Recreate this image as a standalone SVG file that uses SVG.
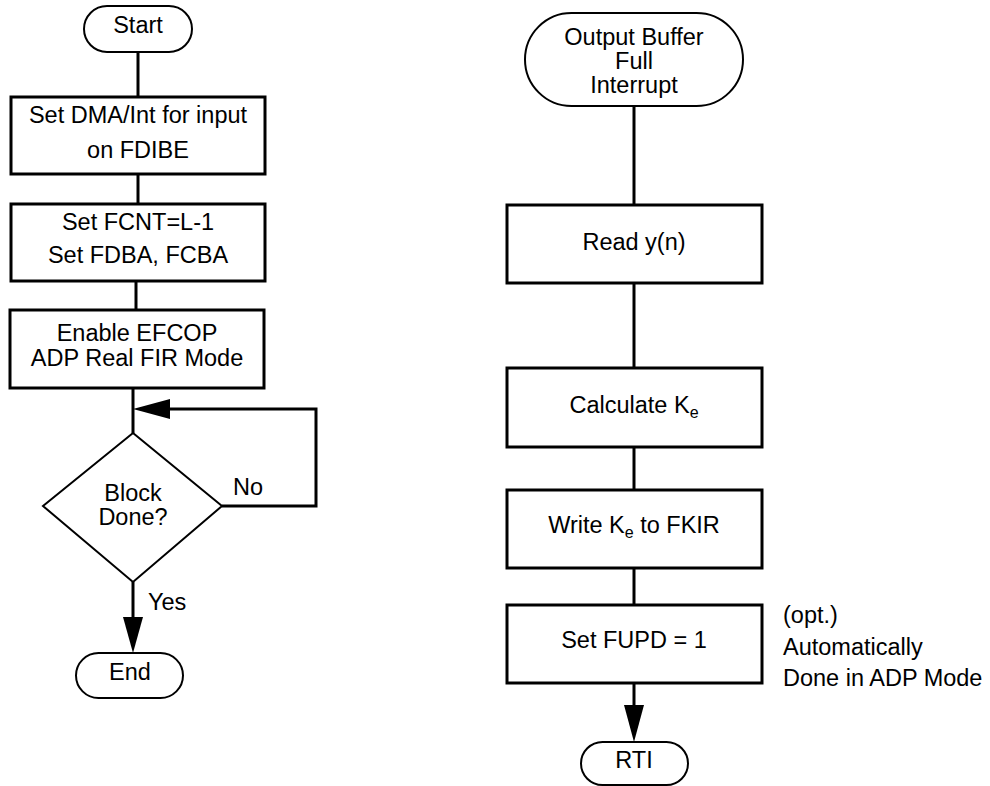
<svg xmlns="http://www.w3.org/2000/svg" width="990" height="786" viewBox="0 0 990 786">
<style>
.box{fill:#fff;stroke:#000;stroke-width:3}
.term{fill:#fff;stroke:#000;stroke-width:2}
.ln{fill:none;stroke:#000;stroke-width:3}
.ah{fill:#000;stroke:none}
text{font-family:"Liberation Sans",Arial,sans-serif;font-size:23.5px;fill:#000}
.c{text-anchor:middle}
</style>
<rect width="990" height="786" fill="#fff"/>
<g id="connectors">
<line class="ln" x1="138" y1="52" x2="138" y2="97"/>
<line class="ln" x1="138" y1="174" x2="138" y2="204"/>
<line class="ln" x1="136" y1="281" x2="136" y2="310"/>
<line class="ln" x1="133" y1="388" x2="133" y2="433"/>
<polyline class="ln" points="222,506 316,506 316,409 168,409"/>
<polygon class="ah" points="133,409 170,399 170,419"/>
<line class="ln" x1="133" y1="582" x2="133" y2="620"/>
<polygon class="ah" points="133,653 123,617 143,617"/>
<line class="ln" x1="634" y1="106" x2="634" y2="205"/>
<line class="ln" x1="634" y1="283" x2="634" y2="368"/>
<line class="ln" x1="634" y1="447" x2="634" y2="490"/>
<line class="ln" x1="634" y1="568" x2="634" y2="605"/>
<line class="ln" x1="634" y1="683" x2="634" y2="708"/>
<polygon class="ah" points="634,742 624,705 644,705"/>
<text x="233" y="495">No</text>
<text x="148" y="610">Yes</text>
</g>
<g id="start">
<rect class="term" x="84" y="6" width="108" height="46" rx="23"/>
<text class="c" x="138" y="33">Start</text>
</g>
<g id="setdma">
<rect class="box" x="11" y="97" width="254" height="77"/>
<text class="c" x="138" y="123">Set DMA/Int for input<tspan x="138" dy="35">on FDIBE</tspan></text>
</g>
<g id="setfcnt">
<rect class="box" x="11" y="204" width="254" height="77"/>
<text class="c" x="138" y="230">Set FCNT=L-1<tspan x="138" dy="33">Set FDBA, FCBA</tspan></text>
</g>
<g id="enable">
<rect class="box" x="10" y="310" width="254" height="78"/>
<text class="c" x="137" y="341">Enable EFCOP<tspan x="137" dy="25">ADP Real FIR Mode</tspan></text>
</g>
<g id="decision">
<polygon class="term" points="133,433 222,506 133,582 43,506"/>
<text class="c" x="133" y="501">Block<tspan x="133" dy="24">Done?</tspan></text>
</g>
<g id="end">
<rect class="term" x="76" y="653" width="107" height="45" rx="22.5"/>
<text class="c" x="130" y="680">End</text>
</g>
<g id="interrupt">
<rect class="term" x="525" y="13" width="218" height="93" rx="46.5"/>
<text class="c" x="634" y="45">Output Buffer<tspan x="634" dy="24">Full</tspan><tspan x="634" dy="24">Interrupt</tspan></text>
</g>
<g id="read">
<rect class="box" x="507" y="205" width="255" height="78"/>
<text class="c" x="634" y="250">Read y(n)</text>
</g>
<g id="calc">
<rect class="box" x="507" y="368" width="255" height="79"/>
<text class="c" x="634" y="413">Calculate K<tspan font-size="16" dy="5">e</tspan></text>
</g>
<g id="write">
<rect class="box" x="507" y="490" width="255" height="78"/>
<text class="c" x="634" y="533">Write K<tspan font-size="16" dy="5">e</tspan><tspan dy="-5"> to FKIR</tspan></text>
</g>
<g id="setfupd">
<rect class="box" x="507" y="605" width="255" height="78"/>
<text class="c" x="634" y="648">Set FUPD = 1</text>
</g>
<g id="note">
<text x="783" y="623">(opt.)<tspan x="783" dy="32">Automatically</tspan><tspan x="783" dy="31">Done in ADP Mode</tspan></text>
</g>
<g id="rti">
<rect class="term" x="581" y="742" width="107" height="43" rx="21.5"/>
<text class="c" x="634" y="768">RTI</text>
</g>
</svg>
